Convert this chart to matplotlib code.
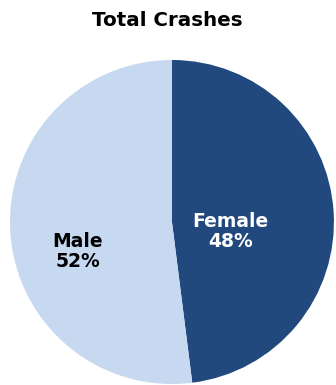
import matplotlib
matplotlib.use("Agg")
import matplotlib.pyplot as plt

title = "Total Crashes"
labels = ["Female", "Male"]
shares = [48, 52]
colors = ["#21497D", "#C6D9F1"]
text_colors = ["white", "black"]

fig = plt.figure(figsize=(3.36, 3.85), dpi=100)
ax = fig.add_axes([0.0298, 0.0026, 0.964, 0.8416])
wedges, _ = ax.pie(shares, colors=colors, startangle=90, counterclock=False,
                   wedgeprops=dict(linewidth=0))
ax.set_aspect("auto")
ax.set_xlim(-1, 1)
ax.set_ylim(-1, 1)

# label positions inside each wedge (in pie units)
label_pos = [(0.36, -0.06), (-0.58, -0.18)]
for lab, val, (x, y), tc in zip(labels, shares, label_pos, text_colors):
    ax.text(x, y, f"{lab}\n{val}%", ha="center", va="center", color=tc,
            fontsize=13.5, fontweight="bold", linespacing=1.05)

fig.text(0.499, 0.947, title, ha="center", va="center",
         fontsize=14.3, fontweight="bold")

fig.savefig("out.png", dpi=100)
